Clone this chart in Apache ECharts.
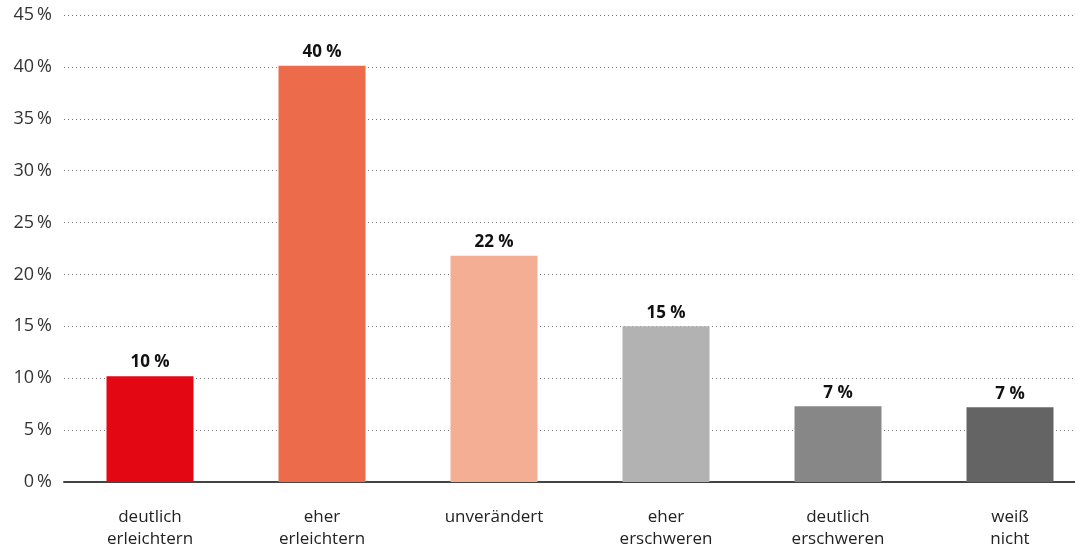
<!DOCTYPE html>
<html>
<head>
<meta charset="utf-8">
<script src="https://cdn.jsdelivr.net/npm/echarts@6/dist/echarts.min.js"></script>
<style>
html,body{margin:0;padding:0;background:#fff;overflow:hidden;}
#chart{width:1096px;height:554px;}
</style>
</head>
<body>
<div id="chart"></div>
<script>
const categories = ['deutlich\nerleichtern', 'eher\nerleichtern', 'unverändert', 'eher\nerschweren', 'deutlich\nerschweren', 'weiß\nnicht'];
const values = [10.2, 40.1, 21.8, 15.0, 7.3, 7.2];
const labels = ['10', '40', '22', '15', '7', '7'];
const colors = ['#e30613', '#ec6b4b', '#f4ae94', '#b2b2b2', '#878787', '#646464'];
const yTicks = [0, 5, 10, 15, 20, 25, 30, 35, 40, 45];

const FONT = '"Open Sans", "Noto Sans", sans-serif';
const chart = echarts.init(document.getElementById('chart'));
chart.setOption({
  animation: false,
  grid: { left: 64, right: 0, top: 15, bottom: 72, containLabel: false },
  xAxis: {
    type: 'category',
    data: categories,
    axisLine: { lineStyle: { color: '#444', width: 2 } },
    axisTick: { show: false },
    axisLabel: { color: '#222', fontSize: 17, fontFamily: FONT, lineHeight: 22, margin: 24 }
  },
  yAxis: {
    type: 'value',
    min: yTicks[0], max: yTicks[yTicks.length - 1], interval: 5,
    axisLine: { show: false },
    axisTick: { show: false },
    axisLabel: { color: '#333', fontSize: 18, fontFamily: FONT, margin: 12,
      formatter: v => v + '\u2009%' },
    splitLine: { lineStyle: { color: '#777', type: [1, 3], width: 1 } }
  },
  series: [{
    type: 'bar',
    barWidth: 87,
    data: values.map((v, i) => ({ value: v, itemStyle: { color: colors[i] } })),
    label: {
      show: true, position: 'top', distance: 5,
      color: '#111', fontSize: 17, fontWeight: 'bold', fontFamily: FONT,
      formatter: p => labels[p.dataIndex] + ' %'
    }
  }]
});
</script>
</body>
</html>
